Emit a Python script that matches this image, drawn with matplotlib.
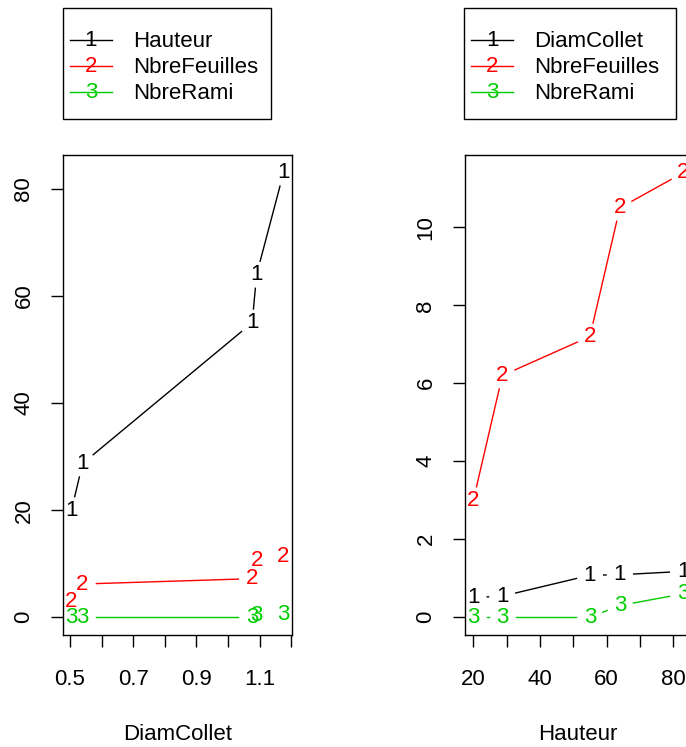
import matplotlib
matplotlib.use('Agg')
import matplotlib.pyplot as plt
import numpy as np
from matplotlib.patches import Rectangle
from matplotlib.lines import Line2D

plt.rcParams['font.family'] = ['Liberation Sans', 'DejaVu Sans']

# ------------------------------------------------------------
# données (moyennes, triées par DiamCollet / Hauteur)
# ------------------------------------------------------------
diam_collet = [0.505, 0.54, 1.076, 1.09, 1.175]
hauteur = [20, 28.7, 55, 64, 83]
nbre_feuilles = [3.0, 6.2, 7.2, 10.5, 11.4]
nbre_rami = [0, 0, 0, 0.3, 0.6]

couleurs = ['#000000', '#FF0000', '#00CD00']
symboles = ['1', '2', '3']

W, H = 686, 747
FS = 16
GAP = 13.8  # px, trou autour des symboles (type="b")

fig = plt.figure(figsize=(W / 100, H / 100), dpi=100)


def r_lim(vals):
    lo, hi = min(vals), max(vals)
    d = 0.04 * (hi - lo)
    return lo - d, hi + d


def type_b(ax, x, y, col, sym):
    # lignes avec un trou autour de chaque symbole, comme type="b" dans R
    pts = ax.transData.transform(np.column_stack([x, y]))
    inv = ax.transData.inverted()
    for p0, p1 in zip(pts[:-1], pts[1:]):
        d = p1 - p0
        L = np.hypot(*d)
        if L <= 2 * GAP:
            continue
        u = d / L
        a = inv.transform(p0 + u * GAP)
        b = inv.transform(p1 - u * GAP)
        ax.plot([a[0], b[0]], [a[1], b[1]], color=col, lw=1.0)
    for xi, yi in zip(x, y):
        ax.text(xi, yi, sym, color=col, fontsize=FS, ha='center', va='center')


def style_axes(ax):
    for s in ax.spines.values():
        s.set_linewidth(1.0)
        s.set_color('black')
    ax.tick_params(direction='out', length=8.6, width=1, labelsize=FS,
                   top=False, right=False)
    ax.tick_params(axis='x', pad=16)
    ax.tick_params(axis='y', pad=12, labelrotation=90)
    for lab in ax.get_yticklabels():
        lab.set_va('center')


def legende(x0, y0, w, h, noms):
    fig.add_artist(Rectangle((x0 / W, 1 - (y0 + h) / H), w / W, h / H,
                             transform=fig.transFigure, fill=False,
                             edgecolor='black', lw=1.0))
    for i, nom in enumerate(noms):
        yy = 1 - (y0 + 32 + 26 * i) / H
        fig.add_artist(Line2D([(x0 + 7) / W, (x0 + 49) / W], [yy, yy],
                              transform=fig.transFigure, color=couleurs[i], lw=1.0))
        fig.text((x0 + 28) / W, yy, symboles[i], color=couleurs[i], fontsize=FS,
                 ha='center', va='center')
        fig.text((x0 + 70) / W, yy - 1.5 / H, nom, color='black', fontsize=FS,
                 ha='left', va='center')


# ------------------------------------------------------------
# panneau gauche : x = DiamCollet
# ------------------------------------------------------------
ax1 = fig.add_axes([63 / W, (H - 635) / H, 229 / W, 480 / H])
ax1.set_xlim(*r_lim(diam_collet))
ax1.set_ylim(*r_lim(hauteur + nbre_feuilles + nbre_rami))
for serie, col, sym in zip([hauteur, nbre_feuilles, nbre_rami], couleurs, symboles):
    type_b(ax1, diam_collet, serie, col, sym)
xt = np.round(np.arange(0.5, 1.21, 0.1), 1)
ax1.set_xticks(xt)
ax1.set_xticklabels([f'{v:.1f}' if i % 2 == 0 else '' for i, v in enumerate(xt)])
ax1.set_yticks([0, 20, 40, 60, 80])
ax1.set_xlabel('DiamCollet', fontsize=FS, labelpad=24)
style_axes(ax1)

# ------------------------------------------------------------
# panneau droit : x = Hauteur (coupé à droite)
# ------------------------------------------------------------
ax2 = fig.add_axes([465 / W, (H - 635) / H, 226.5 / W, 480 / H])
ax2.set_xlim(*r_lim(hauteur))
ax2.set_ylim(*r_lim(diam_collet + nbre_feuilles + nbre_rami))
for serie, col, sym in zip([diam_collet, nbre_feuilles, nbre_rami], couleurs, symboles):
    type_b(ax2, hauteur, serie, col, sym)
xt2 = np.arange(20, 81, 10)
ax2.set_xticks(xt2)
ax2.set_xticklabels([str(v) if i % 2 == 0 else '' for i, v in enumerate(xt2)])
ax2.set_yticks([0, 2, 4, 6, 8, 10])
ax2.set_xlabel('Hauteur', fontsize=FS, labelpad=24)
style_axes(ax2)

legende(63, 8, 208, 111, ['Hauteur', 'NbreFeuilles', 'NbreRami'])
legende(464, 8, 212, 111, ['DiamCollet', 'NbreFeuilles', 'NbreRami'])

plt.savefig('out.png', dpi=100)
